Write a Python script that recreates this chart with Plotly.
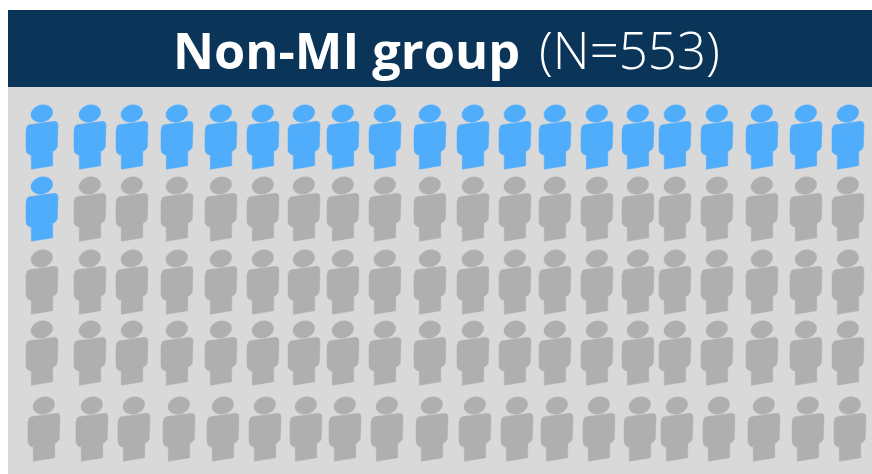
import math
import plotly.graph_objects as go

TITLE_BOLD = "Non-MI group"
TITLE_LIGHT = "(N=553)"
TOTAL_ICONS = 100
HIGHLIGHTED_ICONS = 21
COLUMN_LEFT = [26, 74, 116, 161, 205, 247, 288, 327, 369, 414, 457, 499, 539, 581, 622, 659, 701, 746, 790, 832]
ROW_TOP = [105, 177, 250, 321, 397]
ROW_SHIFT = [0, 0, 0, 0, 2]

BLUE = "#4fadfc"
GREY = "#afafaf"
NAVY = "#0a3558"
PANEL = "#d9d9d9"

BODY = [(0, 25), (0.4, 22.5), (1.4, 20.8), (3.3, 19.8), (28.5, 16.3), (30.5, 16.8), (31.6, 18), (32, 20.5), (32, 39),
        (31.3, 42), (29.5, 44.8), (26.7, 46.5), (26.7, 60.7), (5.3, 64.3), (5.3, 50), (2.8, 49.5), (0.8, 47.5), (0, 45), (0, 25)]


def head():
    pts = []
    tilt = math.radians(-16)
    for i in range(37):
        t = 2 * math.pi * i / 36
        a, b = 11.0 * math.cos(t), 8.5 * math.sin(t)
        pts.append((15.8 + a * math.cos(tilt) - b * math.sin(tilt),
                    8.5 + a * math.sin(tilt) + b * math.cos(tilt)))
    return pts


def outline(indices):
    xs, ys = [], []
    n = len(COLUMN_LEFT)
    for k in indices:
        r, c = divmod(k, n)
        ox, oy = COLUMN_LEFT[c] + ROW_SHIFT[r], ROW_TOP[r]
        for part in (BODY, head()):
            xs += [ox + p[0] for p in part] + [None]
            ys += [oy + p[1] for p in part] + [None]
    return xs, ys


fig = go.Figure()
for idx, color, name in ((range(HIGHLIGHTED_ICONS, TOTAL_ICONS), GREY, "Other"),
                         (range(HIGHLIGHTED_ICONS), BLUE, "Highlighted")):
    x, y = outline(idx)
    fig.add_trace(go.Scatter(x=x, y=y, mode="lines", fill="toself", fillcolor=color,
                             line=dict(color=color, width=0.5), name=name, hoverinfo="skip"))

fig.add_shape(type="rect", x0=8, x1=872, y0=87, y1=474, fillcolor=PANEL, line_width=0, layer="below")
fig.add_shape(type="rect", x0=8, x1=872, y0=10, y1=87, fillcolor=NAVY, line_width=0, layer="below")
fig.add_annotation(x=522, y=49, text="<b>" + TITLE_BOLD + "</b>", showarrow=False, xanchor="right", yanchor="middle",
                   font=dict(family="Open Sans", size=50.5, color="white"))
fig.add_annotation(x=537, y=49, text=TITLE_LIGHT, showarrow=False, xanchor="left", yanchor="middle",
                   font=dict(family="Open Sans", size=51, color="white", weight=300))
fig.update_layout(width=872, height=474, margin=dict(l=0, r=0, t=0, b=0), showlegend=False,
                  paper_bgcolor="white", plot_bgcolor="white",
                  xaxis=dict(range=[0, 872], visible=False, fixedrange=True),
                  yaxis=dict(range=[474, 0], visible=False, fixedrange=True))
fig.write_html("out.html", config={"displayModeBar": False},
               post_script="document.body.style.margin='0';document.body.style.overflow='hidden';")
